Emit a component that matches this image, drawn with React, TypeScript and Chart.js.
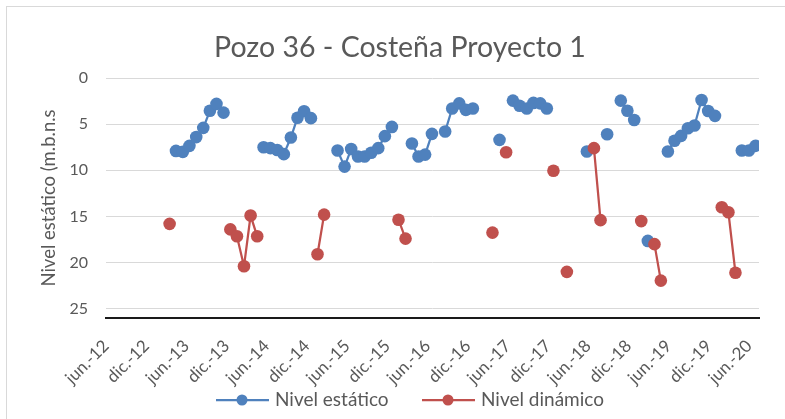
import React, { useEffect, useRef } from 'react';
import { Chart, registerables } from 'chart.js';

Chart.register(...registerables);

const chartTitle = 'Pozo 36 - Costeña Proyecto 1';
const yAxisTitle = 'Nivel estático (m.b.n.s';
const seriesNames = ['Nivel estático', 'Nivel dinámico'];
const seriesColors = ['#4F81BD', '#C0504D'];

const xMinDate = '2012-06-01';
const xMaxDate = '2020-07-16';
const tickDates = [
  '2012-06-01', '2012-12-01', '2013-06-01', '2013-12-01', '2014-06-01', '2014-12-01',
  '2015-06-01', '2015-12-01', '2016-06-01', '2016-12-01', '2017-06-01', '2017-12-01',
  '2018-06-01', '2018-12-01', '2019-06-01', '2019-12-01', '2020-06-01',
];
const tickLabels = [
  'jun.-12', 'dic.-12', 'jun.-13', 'dic.-13', 'jun.-14', 'dic.-14',
  'jun.-15', 'dic.-15', 'jun.-16', 'dic.-16', 'jun.-17', 'dic.-17',
  'jun.-18', 'dic.-18', 'jun.-19', 'dic.-19', 'jun.-20',
];
const yMin = 0;
const yMax = 26;
const yTicks = [0, 5, 10, 15, 20, 25];

// Nivel estático (null = no measurement, breaks the line)
const estaticoFechas = [
  '2013-04-15', '2013-05-16', '2013-06-15', '2013-07-16', '2013-08-17', '2013-09-16', '2013-10-16', '2013-11-17',
  '2013-12-17',
  '2014-05-18', '2014-06-18', '2014-07-19', '2014-08-18', '2014-09-19', '2014-10-19', '2014-11-18', '2014-12-19',
  '2015-01-19',
  '2015-04-19', '2015-05-21', '2015-06-20', '2015-07-21', '2015-08-20', '2015-09-19', '2015-10-21', '2015-11-20', '2015-12-22',
  '2016-01-21',
  '2016-03-22', '2016-04-21', '2016-05-21', '2016-06-21',
  '2016-07-21',
  '2016-08-20', '2016-09-21', '2016-10-23', '2016-11-22', '2016-12-24',
  '2017-01-24',
  '2017-04-24',
  '2017-05-24',
  '2017-06-24', '2017-07-24', '2017-08-26', '2017-09-25', '2017-10-26', '2017-11-25',
  '2017-12-25',
  '2018-05-26',
  '2018-06-26',
  '2018-08-26',
  '2018-09-26',
  '2018-10-27', '2018-11-26', '2018-12-27',
  '2019-01-27',
  '2019-02-27',
  '2019-03-29',
  '2019-05-29', '2019-06-28', '2019-07-28', '2019-08-28', '2019-09-27', '2019-10-29', '2019-11-28', '2019-12-29',
  '2020-01-29',
  '2020-04-29', '2020-05-31', '2020-06-30',
];
const estaticoValores = [
  7.9, 8.0, 7.35, 6.4, 5.4, 3.55, 2.8, 3.75,
  null,
  7.5, 7.6, 7.8, 8.25, 6.45, 4.3, 3.6, 4.35,
  null,
  7.86, 9.6, 7.7, 8.5, 8.5, 8.1, 7.6, 6.3, 5.3,
  null,
  7.1, 8.5, 8.3, 6.05,
  null,
  5.8, 3.3, 2.75, 3.45, 3.3,
  null,
  6.7,
  null,
  2.45, 3.0, 3.3, 2.7, 2.75, 3.3,
  null,
  7.96,
  null,
  6.1,
  null,
  2.45, 3.55, 4.55,
  null,
  17.65,
  null,
  7.96, 6.8, 6.27, 5.45, 5.15, 2.38, 3.57, 4.1,
  null,
  7.86, 7.86, 7.35,
];

// Nivel dinámico
const dinamicoFechas = [
  '2013-03-17',
  '2013-06-15',
  '2013-12-18', '2014-01-17', '2014-02-18', '2014-03-20', '2014-04-19',
  '2014-05-19',
  '2015-01-18', '2015-02-17',
  '2015-03-17',
  '2016-01-21', '2016-02-22',
  '2016-03-22',
  '2017-03-23',
  '2017-04-23',
  '2017-05-24',
  '2017-06-24',
  '2017-12-25',
  '2018-01-25',
  '2018-02-24',
  '2018-03-25',
  '2018-06-27', '2018-07-27',
  '2018-08-27',
  '2019-01-28',
  '2019-02-27',
  '2019-03-29', '2019-04-27',
  '2019-05-27',
  '2020-01-29', '2020-02-28', '2020-03-31',
];
const dinamicoValores = [
  15.8,
  null,
  16.4, 17.15, 20.4, 14.9, 17.15,
  null,
  19.1, 14.8,
  null,
  15.35, 17.4,
  null,
  16.75,
  null,
  8.04,
  null,
  10.05,
  null,
  21.0,
  null,
  7.6, 15.4,
  null,
  15.5,
  null,
  18.0, 21.95,
  null,
  14.0, 14.55, 21.1,
];

const FONT = 'Lato, "Open Sans", sans-serif';
const TEXT_COLOR = '#595959';

function dayOf(s: string): number {
  const [y, m, d] = s.split('-').map(Number);
  return Date.UTC(y, m - 1, d) / 86400000;
}

function toPoints(dates: string[], values: (number | null)[]) {
  return dates.map((d, i) => ({ x: dayOf(d), y: values[i] }));
}

const decorPlugin = {
  id: 'excelDecor',
  afterDraw(chart: any) {
    const ctx = chart.ctx as CanvasRenderingContext2D;
    ctx.save();
    // frame
    ctx.strokeStyle = '#d9d9d9';
    ctx.lineWidth = 1;
    ctx.strokeRect(6.5, 6.5, 900, 600);
    // title
    ctx.fillStyle = TEXT_COLOR;
    ctx.font = `28.5px ${FONT}`;
    ctx.textAlign = 'center';
    ctx.textBaseline = 'alphabetic';
    ctx.fillText(chartTitle, 400, 57);
    // y axis title
    ctx.save();
    ctx.translate(49, 198);
    ctx.rotate(-Math.PI / 2);
    ctx.font = `18.5px ${FONT}`;
    ctx.textAlign = 'center';
    ctx.textBaseline = 'middle';
    ctx.fillText(yAxisTitle, 0, 0);
    ctx.restore();
    // legend
    const legendY = 400;
    const starts = [216, 422];
    chart.data.datasets.forEach((ds: any, i: number) => {
      const x0 = starts[i];
      ctx.strokeStyle = ds.borderColor;
      ctx.lineWidth = 2.25;
      ctx.beginPath();
      ctx.moveTo(x0, legendY);
      ctx.lineTo(x0 + 53, legendY);
      ctx.stroke();
      ctx.fillStyle = ds.backgroundColor;
      ctx.beginPath();
      ctx.arc(x0 + 26, legendY, 5.5, 0, Math.PI * 2);
      ctx.fill();
      ctx.fillStyle = TEXT_COLOR;
      ctx.font = `19px ${FONT}`;
      ctx.textAlign = 'left';
      ctx.textBaseline = 'middle';
      ctx.fillText(ds.label, x0 + 59, legendY);
    });
    ctx.restore();
  },
};

export default function App() {
  const canvasRef = useRef<HTMLCanvasElement | null>(null);

  useEffect(() => {
    if (!canvasRef.current) return;
    const chart = new Chart(canvasRef.current, {
      type: 'line',
      data: {
        datasets: [
          {
            label: seriesNames[0],
            data: toPoints(estaticoFechas, estaticoValores),
            borderColor: seriesColors[0],
            backgroundColor: seriesColors[0],
            borderWidth: 2.25,
            pointRadius: 6.3,
            pointBorderWidth: 0,
            pointHoverRadius: 6.3,
            order: 2,
          },
          {
            label: seriesNames[1],
            data: toPoints(dinamicoFechas, dinamicoValores),
            borderColor: seriesColors[1],
            backgroundColor: seriesColors[1],
            borderWidth: 2.25,
            pointRadius: 6.3,
            pointBorderWidth: 0,
            pointHoverRadius: 6.3,
            order: 1,
          },
        ],
      },
      options: {
        responsive: false,
        animation: false,
        devicePixelRatio: 1,
        spanGaps: false,
        layout: { padding: { top: 78, right: 26, left: 0, bottom: 0 } },
        plugins: {
          legend: { display: false },
          title: { display: false },
          tooltip: { enabled: false },
        },
        scales: {
          x: {
            type: 'linear',
            min: dayOf(xMinDate),
            max: dayOf(xMaxDate),
            afterBuildTicks: (scale: any) => {
              scale.ticks = tickDates.map((d) => ({ value: dayOf(d) }));
            },
            afterFit: (scale: any) => {
              scale.height = 101;
            },
            ticks: {
              autoSkip: false,
              maxRotation: 45,
              minRotation: 45,
              padding: 10,
              color: TEXT_COLOR,
              font: { family: FONT, size: 17 },
              callback: (_v: any, i: number) => tickLabels[i],
            },
            grid: { display: false },
            border: { display: true, color: '#1a1a1a', width: 2 },
          },
          y: {
            type: 'linear',
            reverse: true,
            min: yMin,
            max: yMax,
            afterBuildTicks: (scale: any) => {
              scale.ticks = yTicks.map((v) => ({ value: v }));
            },
            afterFit: (scale: any) => {
              scale.width = 106;
            },
            ticks: {
              padding: 18,
              color: TEXT_COLOR,
              font: { family: FONT, size: 16 },
            },
            grid: { color: '#d9d9d9', lineWidth: 1, drawTicks: false },
            border: { display: false },
          },
        },
      },
      plugins: [decorPlugin],
    } as any);
    return () => chart.destroy();
  }, []);

  return (
    <div style={{ position: 'absolute', left: 0, top: 0, width: 785, height: 419, background: '#fff' }}>
      <canvas ref={canvasRef} width={785} height={419} />
    </div>
  );
}
